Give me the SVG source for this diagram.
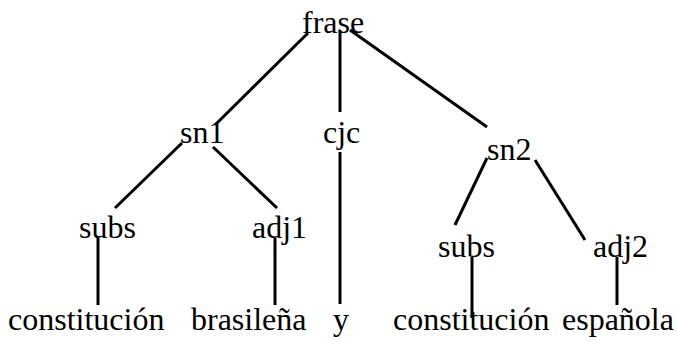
<svg xmlns="http://www.w3.org/2000/svg" width="677" height="341" viewBox="0 0 677 341">
<style>
text{font-family:"Liberation Serif","Times New Roman",serif;font-size:32px;fill:#000}
.c line{stroke:#000;stroke-width:3;stroke-linecap:butt}
</style>
<rect width="677" height="341" fill="#fff"/>
<g class="c" id="connectors">
<line x1="308" y1="33" x2="215" y2="125"/>
<line x1="340" y1="30" x2="340" y2="112"/>
<line x1="350" y1="30" x2="487" y2="127"/>
<line x1="340" y1="152" x2="340" y2="304"/>
<line x1="182" y1="143" x2="115" y2="208"/>
<line x1="213" y1="147" x2="277" y2="208"/>
<line x1="98" y1="238" x2="98" y2="305"/>
<line x1="275" y1="238" x2="275" y2="305"/>
<line x1="487" y1="158" x2="455" y2="225"/>
<line x1="535" y1="160" x2="585" y2="240"/>
<line x1="472" y1="257" x2="472" y2="318"/>
<line x1="617" y1="257" x2="617" y2="305"/>
</g>
<g id="frase"><text x="302" y="33">frase</text></g>
<g id="sn1"><text x="180" y="143">sn1</text></g>
<g id="cjc"><text x="323" y="143">cjc</text></g>
<g id="sn2"><text x="487" y="160">sn2</text></g>
<g id="subs1"><text x="79" y="238">subs</text></g>
<g id="adj1"><text x="252" y="238">adj1</text></g>
<g id="subs2"><text x="438" y="257">subs</text></g>
<g id="adj2"><text x="593" y="257">adj2</text></g>
<g id="w1"><text x="8" y="330">constitución</text></g>
<g id="w2"><text x="191" y="330">brasileña</text></g>
<g id="w3"><text x="333" y="330">y</text></g>
<g id="w4"><text x="393" y="330">constitución</text></g>
<g id="w5"><text x="562" y="330">española</text></g>
</svg>
